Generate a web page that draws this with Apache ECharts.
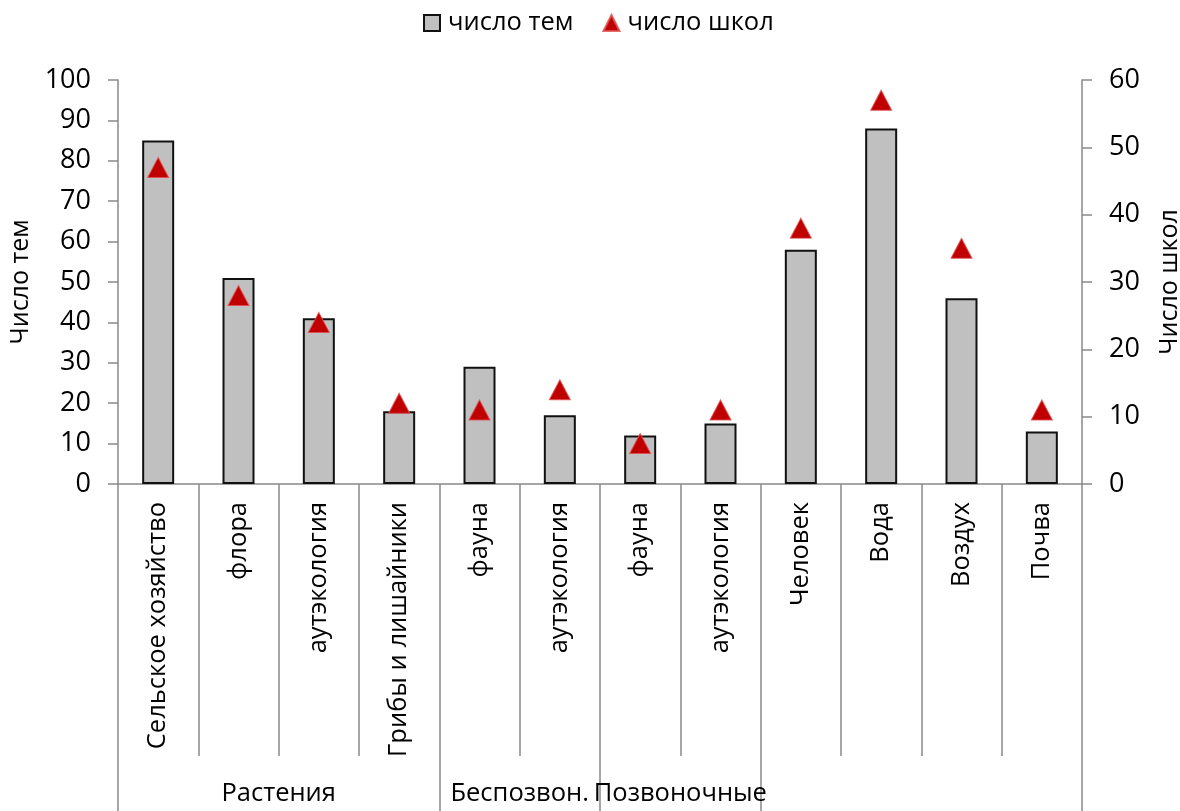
<!DOCTYPE html>
<html>
<head>
<meta charset="utf-8">
<script src="https://cdn.jsdelivr.net/npm/echarts@6/dist/echarts.min.js"></script>
<style>
html,body{margin:0;padding:0;background:#fff;}
#chart{width:1180px;height:811px;}
</style>
</head>
<body>
<div id="chart"></div>
<script>
const categories = ['Сельское хозяйство','флора','аутэкология','Грибы и лишайники','фауна','аутэкология','фауна','аутэкология','Человек','Вода','Воздух','Почва'];
const groupNames = ['Растения','Беспозвон.','Позвоночные',''];
const groupSizes = [4,2,2,4];
const topicCount = [85,51,41,18,29,17,12,15,58,88,46,13];
const schoolCount = [47,28,24,12,11,14,6,11,38,57,35,11];
const leftTicks = {min:0,max:100,interval:10};
const rightTicks = {min:0,max:60,interval:10};
const seriesNames = ['число тем','число школ'];
const axisNames = ['Число тем','Число школ'];

// group boundaries & centres (in category units)
const groupStarts = [];
const groupCentres = {};
let acc = 0;
groupSizes.forEach((s,i)=>{ groupStarts.push(acc); groupCentres[acc + s/2] = groupNames[i]; acc += s; });

const FONT = 'Open Sans';
const grey = '#898989';
const chart = echarts.init(document.getElementById('chart'));
chart.setOption({
  animation:false,
  textStyle:{fontFamily:FONT,color:'#000'},
  legend:{
    top:5, left:418, itemGap:29, itemWidth:16, itemHeight:16,
    textStyle:{fontFamily:FONT,fontSize:25.5,color:'#000',padding:[0,0,0,3]},
    data:[{name:seriesNames[0],icon:'rect'},{name:seriesNames[1],icon:'triangle'}]
  },
  grid:{left:118,right:98,top:80,bottom:327,containLabel:false,outerBoundsMode:'none'},
  xAxis:[
    {type:'category',data:categories,position:'bottom',
     axisLine:{lineStyle:{color:grey,width:1.5}},
     axisTick:{show:true,length:272,lineStyle:{color:grey,width:1.5}},
     axisLabel:{rotate:90,margin:18,fontSize:25.5,color:'#000',fontFamily:FONT,interval:0}},
    {type:'category',data:categories,position:'bottom',
     axisLine:{show:false},
     axisTick:{show:true,length:330,interval:(i)=>groupStarts.indexOf(i)>=0,lineStyle:{color:grey,width:1.5}},
     axisLabel:{show:false}},
    {type:'value',min:0,max:categories.length,interval:1,position:'bottom',
     axisLine:{show:false},axisTick:{show:false},splitLine:{show:false},
     axisLabel:{margin:297,fontSize:25.5,color:'#000',fontFamily:FONT,
       formatter:(v)=>groupCentres[v]||''}}
  ],
  yAxis:[
    {type:'value',min:leftTicks.min,max:leftTicks.max,interval:leftTicks.interval,position:'left',
     name:axisNames[0],nameLocation:'middle',nameRotate:90,nameGap:84,
     nameTextStyle:{fontSize:25,color:'#000',fontFamily:FONT},
     axisLine:{show:true,lineStyle:{color:grey,width:1.5}},
     axisTick:{show:true,length:10,lineStyle:{color:grey,width:1.5}},
     splitLine:{show:false},
     axisLabel:{margin:27,fontSize:27,color:'#000',fontFamily:FONT}},
    {type:'value',min:rightTicks.min,max:rightTicks.max,interval:rightTicks.interval,position:'right',
     name:axisNames[1],nameLocation:'middle',nameRotate:90,nameGap:75,
     nameTextStyle:{fontSize:25,color:'#000',fontFamily:FONT},
     axisLine:{show:true,lineStyle:{color:grey,width:1.5}},
     axisTick:{show:true,length:10,lineStyle:{color:grey,width:1.5}},
     splitLine:{show:false},
     axisLabel:{margin:27,fontSize:27,color:'#000',fontFamily:FONT}}
  ],
  series:[
    {name:seriesNames[0],type:'bar',xAxisIndex:0,yAxisIndex:0,barWidth:32,data:topicCount,
     itemStyle:{color:'#C0C0C0',borderColor:'#111',borderWidth:2}},
    {name:seriesNames[1],type:'scatter',xAxisIndex:0,yAxisIndex:1,symbol:'triangle',symbolSize:[21,20],
     data:schoolCount,itemStyle:{color:'#C00000',borderColor:'rgba(225,80,80,0.85)',borderWidth:1,opacity:1}}
  ]
});
</script>
</body>
</html>
